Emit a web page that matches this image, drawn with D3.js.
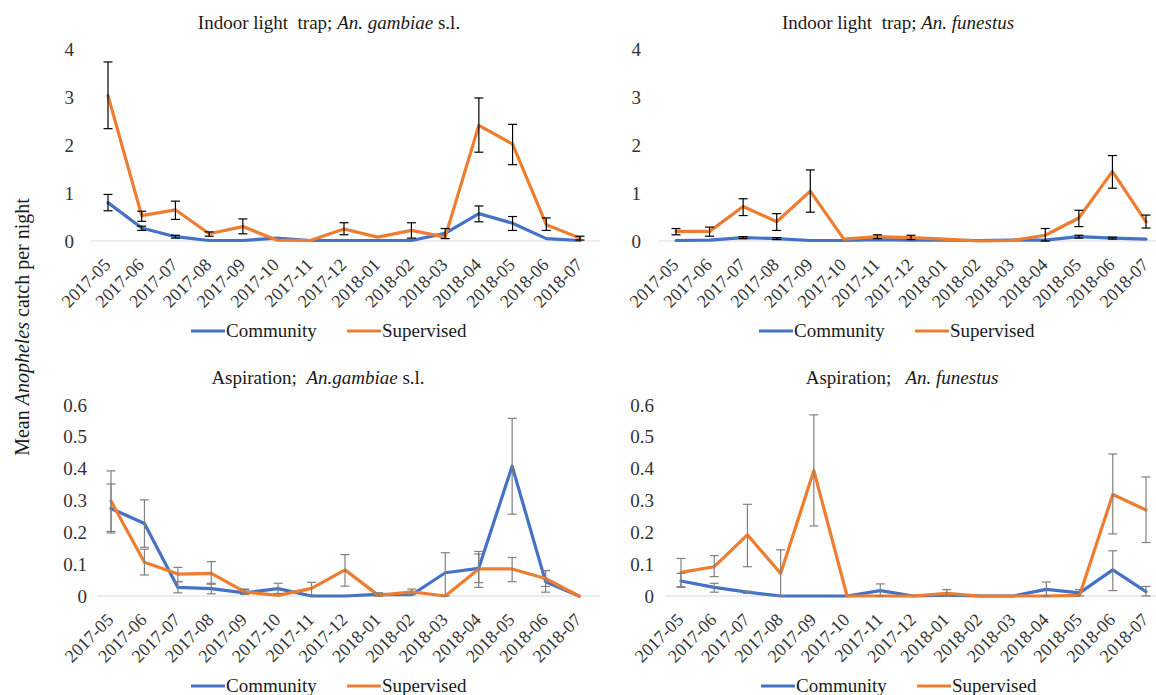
<!DOCTYPE html>
<html>
<head>
<meta charset="utf-8">
<script src="https://cdn.jsdelivr.net/npm/d3@7"></script>
<style>
  html, body { margin: 0; padding: 0; background: #fff; }
  svg text { font-family: "Liberation Serif", "Times New Roman", serif; }
  .ttl { white-space: pre; }
</style>
</head>
<body>
<svg id="chart" width="1156" height="695"></svg>
<script>
// Months sampled
const months = ["2017-05","2017-06","2017-07","2017-08","2017-09","2017-10","2017-11",
                "2017-12","2018-01","2018-02","2018-03","2018-04","2018-05","2018-06","2018-07"];

// Indoor light trap, An. gambiae s.l.
const iltGambComm   = [0.80, 0.27, 0.09, 0.01, 0.01, 0.06, 0.01, 0.01, 0.01, 0.01, 0.16, 0.57, 0.37, 0.05, 0.01];
const iltGambCommHi = [0.97, 0.31, 0.12, null, null, null, null, null, null, null, 0.26, 0.73, 0.51, null, null];
const iltGambCommLo = [0.63, 0.22, 0.06, null, null, null, null, null, null, null, 0.05, 0.40, 0.22, null, null];
const iltGambSup    = [3.03, 0.53, 0.65, 0.15, 0.30, 0.02, 0.01, 0.25, 0.08, 0.22, 0.08, 2.41, 2.02, 0.34, 0.06];
const iltGambSupHi  = [3.73, 0.62, 0.83, 0.19, 0.46, null, null, 0.38, null, 0.38, null, 2.98, 2.43, 0.48, 0.10];
const iltGambSupLo  = [2.34, 0.41, 0.45, 0.10, 0.15, null, null, 0.13, null, 0.06, null, 1.85, 1.59, 0.22, 0.02];

// Indoor light trap, An. funestus
const iltFunComm    = [0.01, 0.02, 0.07, 0.05, 0.01, 0.01, 0.03, 0.02, 0.02, 0.01, 0.02, 0.02, 0.09, 0.06, 0.04];
const iltFunCommHi  = [null, null, 0.09, 0.07, null, null, null, null, null, null, null, null, 0.12, 0.08, null];
const iltFunCommLo  = [null, null, 0.05, 0.03, null, null, null, null, null, null, null, null, 0.06, 0.04, null];
const iltFunSup     = [0.20, 0.20, 0.72, 0.40, 1.04, 0.04, 0.09, 0.07, 0.04, 0.00, 0.01, 0.12, 0.48, 1.45, 0.40];
const iltFunSupHi   = [0.26, 0.29, 0.88, 0.57, 1.48, null, 0.13, 0.12, null, null, null, 0.26, 0.64, 1.78, 0.54];
const iltFunSupLo   = [0.13, 0.10, 0.53, 0.22, 0.60, null, 0.05, 0.03, null, null, null, 0.00, 0.30, 1.10, 0.27];

// Aspiration, An. gambiae s.l.
const aspGambComm   = [0.275, 0.228, 0.027, 0.023, 0.010, 0.023, 0.000, 0.000, 0.005, 0.004, 0.073, 0.087, 0.408, 0.045, 0.000];
const aspGambCommHi = [0.352, 0.302, 0.045, 0.040, 0.020, 0.040, null, null, 0.010, null, 0.136, 0.140, 0.558, 0.080, null];
const aspGambCommLo = [0.198, 0.153, 0.010, 0.007, 0.005, 0.008, null, null, 0.000, null, 0.000, 0.042, 0.257, 0.012, null];
const aspGambSup    = [0.298, 0.106, 0.069, 0.071, 0.013, 0.002, 0.024, 0.082, 0.002, 0.013, 0.000, 0.085, 0.085, 0.055, 0.000];
const aspGambSupHi  = [0.393, 0.147, 0.090, 0.108, 0.022, null, 0.043, 0.130, null, 0.022, null, 0.132, 0.121, 0.080, null];
const aspGambSupLo  = [0.203, 0.066, 0.045, 0.037, 0.005, null, 0.003, 0.031, null, 0.004, null, 0.027, 0.045, 0.030, null];

// Aspiration, An. funestus
const aspFunComm    = [0.047, 0.027, 0.012, 0.000, 0.000, 0.000, 0.017, 0.000, 0.003, 0.000, 0.000, 0.021, 0.010, 0.082, 0.014];
const aspFunCommHi  = [0.071, 0.040, 0.015, null, null, null, 0.038, null, null, null, null, 0.044, 0.020, 0.142, 0.030];
const aspFunCommLo  = [0.027, 0.012, 0.008, null, null, null, 0.000, null, null, null, null, 0.000, 0.000, 0.017, 0.000];
const aspFunSup     = [0.074, 0.092, 0.192, 0.071, 0.394, 0.000, 0.000, 0.000, 0.008, 0.000, 0.000, 0.000, 0.002, 0.319, 0.270];
const aspFunSupHi   = [0.118, 0.127, 0.288, 0.145, 0.569, null, null, null, 0.020, null, null, null, null, 0.446, 0.374];
const aspFunSupLo   = [0.029, 0.061, 0.092, 0.000, 0.220, null, null, null, 0.000, null, null, null, null, 0.195, 0.168];

// Axis ticks
const ticksIlt = [0, 1, 2, 3, 4];
const ticksAsp = [0, 0.1, 0.2, 0.3, 0.4, 0.5, 0.6];

const seriesNames = ["Community", "Supervised"];
const seriesColors = ["#4472C4", "#ED7D31"];

const SERIF = "'Liberation Serif', 'Times New Roman', serif";

const svg = d3.select("#chart").attr("font-family", SERIF);

const fmtAsp = v => v === 0 ? "0" : d3.format(".1f")(v);

const panels = [
  { title: [["Indoor light  trap; ", false], ["An. gambiae", true], [" s.l.", false]],
    titleX: 329, titleY: 29,
    xRange: [108, 580], plotX0: 91, plotX1: 600, labelX: 74,
    yRange: [241, 49], domain: [0, 4], ticks: ticksIlt,
    fmt: d3.format("d"), errColor: "#000", legendX: 191, legendY: 331,
    comm: iltGambComm, commHi: iltGambCommHi, commLo: iltGambCommLo,
    sup: iltGambSup, supHi: iltGambSupHi, supLo: iltGambSupLo },
  { title: [["Indoor light  trap; ", false], ["An. funestus", true]],
    titleX: 898, titleY: 29,
    xRange: [676, 1146], plotX0: 659, plotX1: 1156, labelX: 641,
    yRange: [241, 49], domain: [0, 4], ticks: ticksIlt,
    fmt: d3.format("d"), errColor: "#000", legendX: 759, legendY: 331,
    comm: iltFunComm, commHi: iltFunCommHi, commLo: iltFunCommLo,
    sup: iltFunSup, supHi: iltFunSupHi, supLo: iltFunSupLo },
  { title: [["Aspiration;  ", false], ["An.gambiae", true], [" s.l.", false]],
    titleX: 318, titleY: 384,
    xRange: [111, 579], plotX0: 97, plotX1: 600, labelX: 87,
    yRange: [596, 405], domain: [0, 0.6], ticks: ticksAsp,
    fmt: fmtAsp, errColor: "#808080", legendX: 191, legendY: 686,
    comm: aspGambComm, commHi: aspGambCommHi, commLo: aspGambCommLo,
    sup: aspGambSup, supHi: aspGambSupHi, supLo: aspGambSupLo },
  { title: [["Aspiration;   ", false], ["An. funestus", true]],
    titleX: 902, titleY: 384,
    xRange: [681, 1146], plotX0: 665, plotX1: 1156, labelX: 654,
    yRange: [596, 405], domain: [0, 0.6], ticks: ticksAsp,
    fmt: fmtAsp, errColor: "#808080", legendX: 761, legendY: 686,
    comm: aspFunComm, commHi: aspFunCommHi, commLo: aspFunCommLo,
    sup: aspFunSup, supHi: aspFunSupHi, supLo: aspFunSupLo }
];

panels.forEach(p => {
  const g = svg.append("g");
  const x = d3.scalePoint().domain(months).range(p.xRange);
  const y = d3.scaleLinear().domain(p.domain).range(p.yRange);

  // Title
  const t = g.append("text").attr("class", "ttl")
    .attr("x", p.titleX).attr("y", p.titleY)
    .attr("text-anchor", "middle").attr("font-family", SERIF)
    .attr("font-size", 19).attr("fill", "#1a1a1a");
  p.title.forEach(([s, it]) => t.append("tspan").text(s).attr("font-style", it ? "italic" : "normal"));

  // Zero gridline
  g.append("line")
    .attr("x1", p.plotX0).attr("x2", p.plotX1)
    .attr("y1", y(0)).attr("y2", y(0))
    .attr("stroke", "#d9d9d9").attr("stroke-width", 1.2);

  // Value axis labels
  const ya = g.append("g")
    .attr("transform", `translate(${p.labelX},0)`)
    .call(d3.axisLeft(y).tickValues(p.ticks).tickFormat(p.fmt).tickSize(0).tickPadding(0))
    .attr("font-family", SERIF);
  ya.select(".domain").remove();
  ya.selectAll("text").attr("font-size", 19).attr("fill", "#333");

  // Category axis labels, rotated
  const xa = g.append("g")
    .attr("transform", `translate(0,${y(0)})`)
    .call(d3.axisBottom(x).tickSize(0).tickPadding(0))
    .attr("font-family", SERIF);
  xa.select(".domain").remove();
  xa.selectAll("text")
    .attr("font-size", 18).attr("fill", "#333")
    .attr("text-anchor", "end").attr("dy", null).attr("y", 0)
    .attr("transform", "translate(3,25) rotate(-45)");

  const line = d3.line().x((d, i) => x(months[i])).y(d => y(d));

  const series = [
    { v: p.comm, hi: p.commHi, lo: p.commLo, c: seriesColors[0] },
    { v: p.sup,  hi: p.supHi,  lo: p.supLo,  c: seriesColors[1] }
  ];

  series.forEach(s => {
    g.append("path").datum(s.v)
      .attr("d", line)
      .attr("fill", "none").attr("stroke", s.c)
      .attr("stroke-width", 3.2).attr("stroke-linejoin", "round").attr("stroke-linecap", "round");
  });

  // Error bars
  series.forEach(s => {
    const eb = g.append("g").attr("stroke", p.errColor).attr("stroke-width", 1.2).attr("fill", "none");
    months.forEach((m, i) => {
      if (s.hi[i] == null || s.lo[i] == null) return;
      const cx = x(m), yt = y(s.hi[i]), yb = y(s.lo[i]);
      eb.append("line").attr("x1", cx).attr("x2", cx).attr("y1", yt).attr("y2", yb);
      eb.append("line").attr("x1", cx - 4.5).attr("x2", cx + 4.5).attr("y1", yt).attr("y2", yt);
      eb.append("line").attr("x1", cx - 4.5).attr("x2", cx + 4.5).attr("y1", yb).attr("y2", yb);
    });
  });

  // Legend
  const lg = g.append("g").attr("transform", `translate(${p.legendX},${p.legendY})`);
  const offsets = [0, 156];
  seriesNames.forEach((name, i) => {
    lg.append("line").attr("x1", offsets[i]).attr("x2", offsets[i] + 34)
      .attr("y1", 0).attr("y2", 0).attr("stroke", seriesColors[i]).attr("stroke-width", 3.2);
    lg.append("text").attr("x", offsets[i] + 35).attr("y", 6).attr("font-family", SERIF)
      .attr("font-size", 19).attr("fill", "#1a1a1a").text(name);
  });
});

// Shared value axis title
svg.append("text")
  .attr("transform", "translate(29,327) rotate(-90)")
  .attr("text-anchor", "middle").attr("font-family", SERIF)
  .attr("font-size", 20).attr("fill", "#1a1a1a")
  .call(t => {
    t.append("tspan").text("Mean ");
    t.append("tspan").attr("font-style", "italic").text("Anopheles");
    t.append("tspan").text(" catch per night");
  });
</script>
</body>
</html>
